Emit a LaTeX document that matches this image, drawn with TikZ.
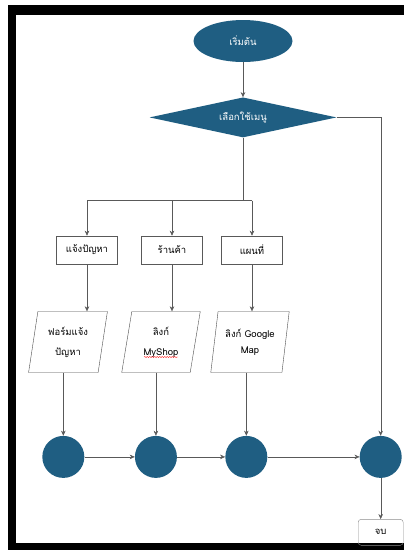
\documentclass[tikz,border=0pt]{standalone}
\usepackage{fontspec}
\newfontfamily\thaifont[Script=Thai]{Loma}
\usetikzlibrary{positioning,shapes.geometric,arrows.meta,decorations.pathmorphing}
\definecolor{flowblue}{RGB}{31,94,130}

\begin{document}
\begin{tikzpicture}[
      x=1pt, y=1pt,
      nodes={font=\thaifont\fontsize{9.5}{20}\selectfont, align=center},
      term/.style={ellipse, fill=flowblue, text=white,
        minimum width=99pt, minimum height=42pt},
      choice/.style={diamond, fill=flowblue, text=white, aspect=4.7,
        minimum width=187pt, minimum height=40pt, inner sep=0pt},
      menubox/.style={rectangle, draw=black!65, semithick,
        minimum width=61pt, minimum height=28pt},
      io/.style={trapezium, trapezium left angle=79, trapezium right angle=101,
        trapezium stretches, draw=black!70, minimum width=79pt, minimum height=61pt},
      joint/.style={circle, fill=flowblue, minimum size=42pt, inner sep=0pt},
      stopbox/.style={rectangle, rounded corners=3pt, draw=black!45,
        minimum width=45pt, minimum height=26pt},
      >={Stealth[length=5pt,width=4.5pt]}, draw=black!65
      ]

  \useasboundingbox (0,0) rectangle (404,-550);
  % frame
  \fill[black] (8,-5) rectangle (404,-550);
  \fill[white] (16,-15) rectangle (404,-543);

  \node[term] (start) at (243,-41) {เริ่มต้น};
  \node[choice, below = 35pt of start] (menu) {เลือกใช้เมนู};
  \coordinate[below = 63pt of menu] (split);
  \coordinate[right = 44pt of menu] (turn);

  \node[menubox] (b1) at (87,-250) {แจ้งปัญหา};
  \node[menubox] (b2) at (172,-250) {ร้านค้า};
  \node[menubox] (b3) at (252,-250) {แผนที่};

  \node[io] (p1) at (68,-342) {ฟอร์มแจ้ง\\ปัญหา};
  \node[io] (p2) at (161,-342) {ลิงก์\\MyShop};
  \node[io] (p3) at (250,-342) {ลิงก์ Google\\[-4pt]Map};

  \node[joint, below = 63pt of p1.bottom side] (c1) {};
  \node[joint, below = 63pt of p2.bottom side] (c2) {};
  \node[joint, below = 63pt of p3.bottom side] (c3) {};
  \node[joint] (c4) at (turn |- c3) {};
  \node[stopbox, below = 41pt of c4] (stop) {จบ};

  % spelling mark under MyShop
  \draw[red, decorate, decoration={snake, amplitude=0.5pt, segment length=2.5pt}]
    ([xshift=-17pt,yshift=-15pt]p2.center) -- ([xshift=17pt,yshift=-15pt]p2.center);

  % Connect the nodes
  \draw[->] (start) -- (menu);
  \draw (menu) -- (split);
  \draw (b1 |- split) -- (b3 |- split);
  \foreach \i in {1,2,3}
    \draw[->] (b\i |- split) -- (b\i);
  \foreach \i in {1,2,3}
    \draw[->] (b\i) -- (b\i |- p\i.north);
  \foreach \i in {1,2,3}
    \draw[->] (p\i.bottom side) -- (c\i);
  \draw[->] (c1) -- (c2);
  \draw[->] (c2) -- (c3);
  \draw[->] (c3) -- (c4);
  \draw[->] (menu.east) -- (turn) -- (c4);
  \draw[->] (c4) -- (stop);

\end{tikzpicture}
\end{document}
